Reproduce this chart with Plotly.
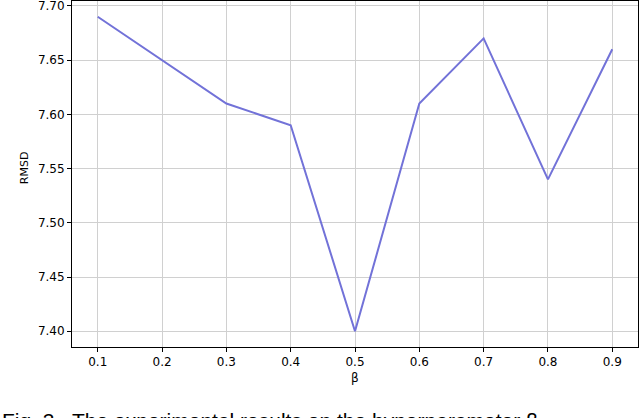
import plotly.graph_objects as go

beta = [0.1, 0.2, 0.3, 0.4, 0.5, 0.6, 0.7, 0.8, 0.9]
rmsd = [7.69, 7.65, 7.61, 7.59, 7.40, 7.61, 7.67, 7.54, 7.66]
x_ticks = [0.1, 0.2, 0.3, 0.4, 0.5, 0.6, 0.7, 0.8, 0.9]
y_ticks = [7.40, 7.45, 7.50, 7.55, 7.60, 7.65, 7.70]
x_title = "β"
y_title = "RMSD"
caption = "Fig. 3.\u00a0\u00a0The experimental results on the hyperparameter β"

# plot-area geometry in pixels (used to place free text)
L, T, W, H = 72, 1, 566, 345.6


def px_to_paper(xp, yp):
    return (xp - L) / W, (T + H - yp) / H


fig = go.Figure()
fig.add_trace(go.Scatter(x=beta, y=rmsd, mode="lines",
                         line=dict(color="#7272d8", width=2)))

axis_common = dict(
    showline=True, linecolor="black", linewidth=1, mirror=True,
    ticks="outside", ticklen=4, tickcolor="black", tickwidth=1,
    showgrid=True, gridcolor="#d0d0d0", gridwidth=1, zeroline=False,
    automargin=False, ticklabeloverflow="allow",
    tickfont=dict(family="DejaVu Sans", size=12, color="black"),
)

fig.update_layout(
    width=640, height=418,
    margin=dict(l=L, r=640 - L - W, t=T, b=418 - T - H),
    plot_bgcolor="white", paper_bgcolor="white",
    showlegend=False,
    font=dict(family="DejaVu Sans", size=12, color="black"),
    xaxis=dict(range=[0.06, 0.94], tickvals=x_ticks,
               ticktext=[f"{v:.1f}" for v in x_ticks], **axis_common),
    yaxis=dict(range=[7.3855, 7.7045], tickvals=y_ticks,
               ticktext=[f"{v:.2f}" for v in y_ticks], **axis_common),
)

bx, by = px_to_paper(355, 378)
fig.add_annotation(text=x_title, xref="paper", yref="paper", x=bx, y=by,
                   xanchor="center", yanchor="middle", showarrow=False,
                   font=dict(family="DejaVu Sans", size=12, color="black"))

rx, ry = px_to_paper(24, 168)
fig.add_annotation(text=y_title, xref="paper", yref="paper", x=rx, y=ry,
                   xanchor="center", yanchor="middle", textangle=-90,
                   showarrow=False,
                   font=dict(family="DejaVu Sans", size=11, color="black"))

cx, cy = px_to_paper(0, 407)
fig.add_annotation(text=caption, xref="paper", yref="paper", x=cx, y=cy,
                   xanchor="left", yanchor="top", showarrow=False,
                   font=dict(family="Liberation Sans", size=21, color="black"))

fig.write_html(
    "out.html",
    config={"displayModeBar": False},
    post_script="document.body.style.margin='0';document.body.style.overflow='hidden';",
)
